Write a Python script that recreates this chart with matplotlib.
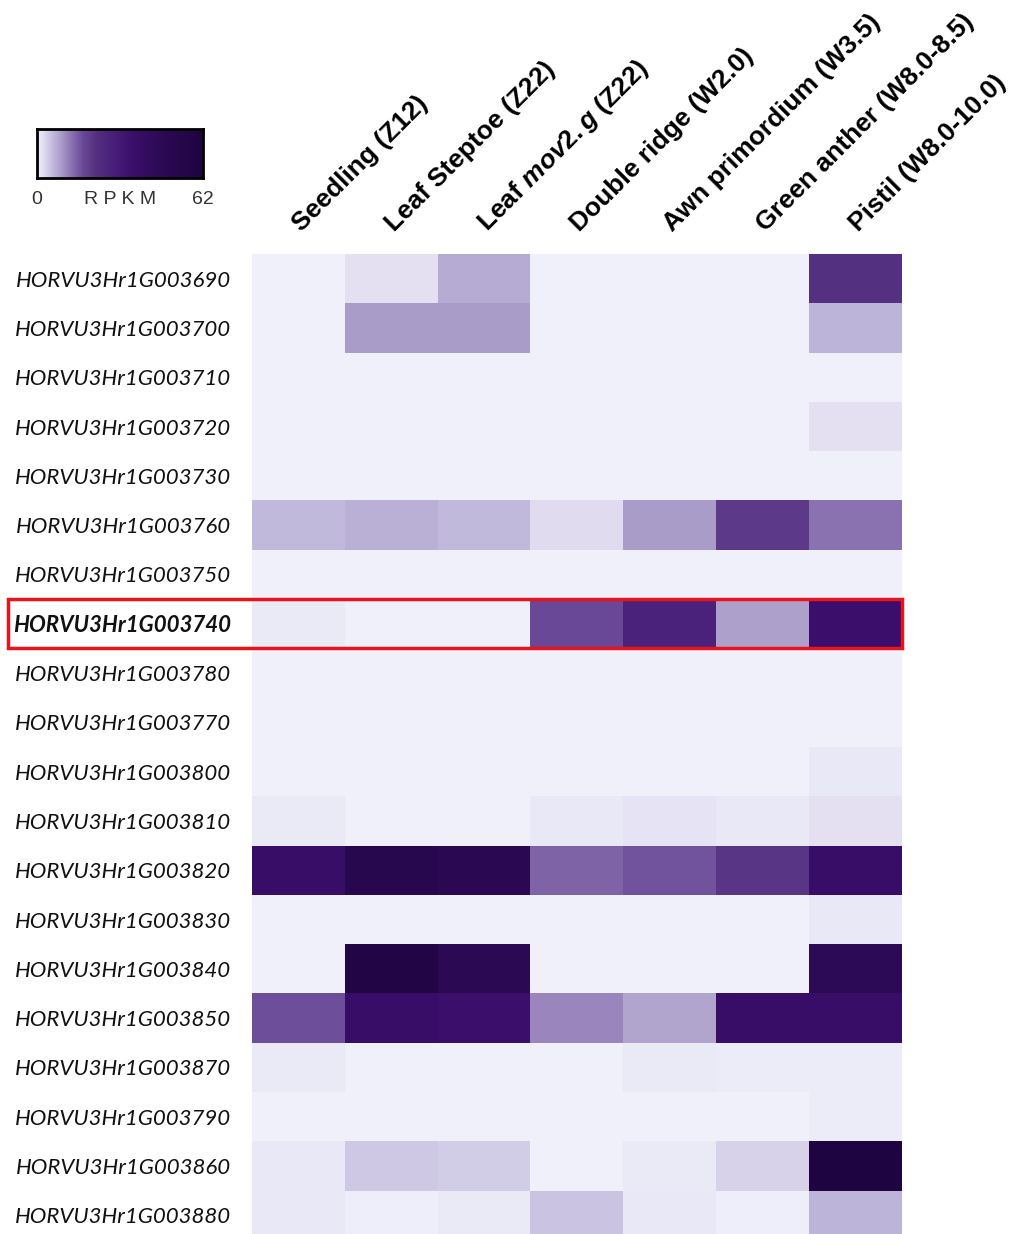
import matplotlib
matplotlib.use("Agg")
import matplotlib.pyplot as plt
import numpy as np
from matplotlib.colors import LinearSegmentedColormap
from matplotlib.patches import Rectangle
from matplotlib import transforms

# Tissues / developmental stages (columns)
stages = [
    "Seedling (Z12)",
    "Leaf Steptoe (Z22)",
    r"Leaf $\mathit{mov2.g}$ (Z22)",
    "Double ridge (W2.0)",
    "Awn primordium (W3.5)",
    "Green anther (W8.0-8.5)",
    "Pistil (W8.0-10.0)",
]

# Gene models (rows)
genes = [
    "HORVU3Hr1G003690", "HORVU3Hr1G003700", "HORVU3Hr1G003710",
    "HORVU3Hr1G003720", "HORVU3Hr1G003730", "HORVU3Hr1G003760",
    "HORVU3Hr1G003750", "HORVU3Hr1G003740", "HORVU3Hr1G003780",
    "HORVU3Hr1G003770", "HORVU3Hr1G003800", "HORVU3Hr1G003810",
    "HORVU3Hr1G003820", "HORVU3Hr1G003830", "HORVU3Hr1G003840",
    "HORVU3Hr1G003850", "HORVU3Hr1G003870", "HORVU3Hr1G003790",
    "HORVU3Hr1G003860", "HORVU3Hr1G003880",
]
highlight_gene = "HORVU3Hr1G003740"

# Expression (RPKM), one list per gene, columns in stage order
rpkm = [
    [0.0, 2.0, 7.5, 0.0, 0.0, 0.0, 22.0],
    [0.0, 9.0, 9.0, 0.0, 0.0, 0.0, 6.5],
    [0.0, 0.0, 0.0, 0.0, 0.0, 0.0, 0.0],
    [0.0, 0.0, 0.0, 0.0, 0.0, 0.0, 2.0],
    [0.0, 0.0, 0.0, 0.0, 0.0, 0.0, 0.0],
    [6.0, 7.0, 6.0, 2.5, 9.0, 20.0, 13.0],
    [0.0, 0.0, 0.0, 0.0, 0.0, 0.0, 0.0],
    [0.8, 0.0, 0.0, 17.0, 27.0, 8.5, 36.0],
    [0.0, 0.0, 0.0, 0.0, 0.0, 0.0, 0.0],
    [0.0, 0.0, 0.0, 0.0, 0.0, 0.0, 0.0],
    [0.0, 0.0, 0.0, 0.0, 0.0, 0.0, 1.0],
    [0.8, 0.0, 0.0, 1.0, 1.5, 1.0, 2.0],
    [37.0, 52.0, 48.0, 14.5, 16.0, 21.0, 37.0],
    [0.0, 0.0, 0.0, 0.0, 0.0, 0.0, 1.0],
    [0.0, 58.0, 47.0, 0.0, 0.0, 0.0, 46.0],
    [16.5, 37.0, 36.0, 11.0, 8.0, 37.0, 37.0],
    [0.8, 0.0, 0.0, 0.0, 0.8, 0.5, 0.7],
    [0.0, 0.0, 0.0, 0.0, 0.0, 0.0, 0.7],
    [1.0, 4.5, 4.0, 0.0, 0.8, 3.5, 62.0],
    [1.0, 0.3, 0.8, 5.0, 1.0, 0.3, 6.5],
]
vmin, vmax = 0, 62

# Light lavender to deep purple scale
scale_nodes = [
    (0, "#eff0fa"), (2, "#e4e0f2"), (6, "#c0b8dc"), (9, "#aa9cc8"),
    (13, "#8a70b0"), (17, "#6a4a98"), (22, "#543080"), (28, "#48207a"),
    (36, "#3a0e6a"), (47, "#2c0a54"), (62, "#1e0440"),
]
cmap = LinearSegmentedColormap.from_list(
    "rpkm", [(v / vmax, c) for v, c in scale_nodes])

plt.rcParams["mathtext.fontset"] = "custom"
plt.rcParams["mathtext.it"] = "Liberation Sans:italic:bold"
plt.rcParams["mathtext.rm"] = "Liberation Sans:bold"
plt.rcParams["mathtext.bf"] = "Liberation Sans:bold"

W, H = 1015, 1234
fig = plt.figure(figsize=(W / 100, H / 100), dpi=100)

# Heatmap panel
left, right, top, bottom = 252, 902, 254, 1240
ax = fig.add_axes([left / W, 1 - bottom / H, (right - left) / W, (bottom - top) / H])
data = np.array(rpkm)
ax.imshow(data, cmap=cmap, vmin=vmin, vmax=vmax, aspect="auto",
          interpolation="nearest")
for s in ax.spines.values():
    s.set_visible(False)
ax.set_xticks([])
ax.set_yticks(range(len(genes)))
ax.set_yticklabels(genes)
ax.tick_params(axis="y", length=0, pad=15)
for lbl, g in zip(ax.get_yticklabels(), genes):
    lbl.set_fontfamily("Lato")
    lbl.set_fontstyle("italic")
    lbl.set_fontsize(16)
    lbl.set_color("#111111")
    if g == highlight_gene:
        lbl.set_fontweight("bold")

# Rotated stage labels above the columns
lab_tr = transforms.blended_transform_factory(ax.transData, ax.transAxes)
lab_off = transforms.ScaledTranslation(0, 0.22, fig.dpi_scale_trans)
for i, name in enumerate(stages):
    ax.text(i + 0.03, 1.0, name, transform=lab_tr + lab_off,
            rotation=45, rotation_mode="anchor", ha="left", va="baseline",
            fontsize=19, fontweight="bold", family="Liberation Sans",
            color="#000000")

# Highlight box around one gene row
hi = genes.index(highlight_gene)
box_tr = transforms.blended_transform_factory(fig.transFigure, ax.transData)
ax.add_patch(Rectangle((8 / W, hi - 0.5), (right - 8) / W, 1.0,
                       transform=box_tr, fill=False, edgecolor="#e8141c",
                       linewidth=2.5, clip_on=False, zorder=5))

# Colour key
cax = fig.add_axes([37 / W, 1 - 178 / H, (203 - 37) / W, (178 - 129) / H])
grad = np.linspace(vmin, vmax, 256)[None, :]
cax.imshow(grad, cmap=cmap, vmin=vmin, vmax=vmax, aspect="auto",
           extent=[vmin, vmax, 0, 1])
cax.set_xticks([])
cax.set_yticks([])
for s in cax.spines.values():
    s.set_linewidth(2)
    s.set_color("#000000")
key_font = dict(fontsize=14, family="Liberation Sans", color="#333333",
                va="top", transform=cax.transAxes)
cax.text(0.0, -0.26, str(vmin), ha="center", **key_font)
cax.text(0.5, -0.26, "R P K M", ha="center", **key_font)
cax.text(1.0, -0.26, str(vmax), ha="center", **key_font)

fig.savefig("out.png", dpi=100)
